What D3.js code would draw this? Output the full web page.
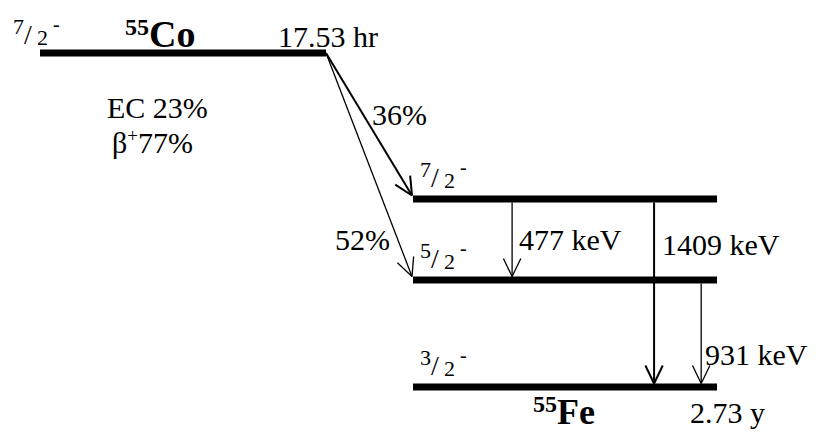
<!DOCTYPE html>
<html><head><meta charset="utf-8">
<script src="https://cdn.jsdelivr.net/npm/d3@7"></script>
<style>body{margin:0;background:#fff}svg{display:block}</style></head>
<body><svg id="c" width="816" height="432" font-family="'Liberation Serif', 'DejaVu Serif', serif"></svg>
<script>
// ---- data ----
const levelIds      = ["Co", "Fe1409", "Fe931", "Fe0"];
const levelEnergies = [3451, 1409, 931, 0];          // keV
const levelSpinNum  = ["7", "7", "5", "3"];
const levelSpinDen  = ["2", "2", "2", "2"];
const levelParity   = ["-", "-", "-", "-"];
const levelNucleus  = ["parent", "daughter", "daughter", "daughter"];

const feedFrom   = [0, 0];
const feedTo     = [1, 2];
const feedLabels = ["36%", "52%"];
const feedStrong = [true, false];

const gammaFrom   = [1, 1, 2];
const gammaTo     = [2, 3, 3];
const gammaLabels = ["477 keV", "1409 keV", "931 keV"];
const gammaStrong = [false, true, false];

const parentName = ["55", "Co"], daughterName = ["55", "Fe"];
const parentHalfLife = "17.53 hr", daughterHalfLife = "2.73 y";
const decayModes = ["EC 23%", "77%"];

// ---- layout ----
const FONT = "Liberation Serif";
const svg = d3.select("#c");
const y = d3.scaleLinear().domain([0, 931, 1409, 3451]).range([387, 280, 199, 53]);
const xParent = d3.scaleLinear().domain([0, 1]).range([40, 326]);
const xDaughter = d3.scaleLinear().domain([0, 1]).range([413, 717]);
const gammaFrac = [0.326, 0.793, 0.948];
const xOf = i => levelNucleus[i] === "parent" ? xParent : xDaughter;
const half = 3.5;

function txt(x, yy, size, s) {
  return svg.append("text").attr("x", x).attr("y", yy)
    .attr("font-family", FONT).attr("font-size", size).attr("fill", "#000").text(s || null);
}

// levels
levelIds.forEach((id, i) => {
  const xs = xOf(i);
  svg.append("line").attr("x1", xs(0)).attr("x2", xs(1))
    .attr("y1", y(levelEnergies[i])).attr("y2", y(levelEnergies[i]))
    .attr("stroke", "#000").attr("stroke-width", 7);
});

function arrow(x1, y1, x2, y2, w) {
  const g = svg.append("g").attr("stroke", "#000").attr("stroke-width", w).attr("fill", "none");
  g.append("line").attr("x1", x1).attr("y1", y1).attr("x2", x2).attr("y2", y2);
  const a = Math.atan2(y2 - y1, x2 - x1), L = 20, s = 0.45;
  [a + Math.PI - s, a + Math.PI + s].forEach(b => {
    g.append("line").attr("x1", x2).attr("y1", y2)
      .attr("x2", x2 + L * Math.cos(b)).attr("y2", y2 + L * Math.sin(b));
  });
}

// feeding arrows
feedFrom.forEach((f, k) => {
  const t = feedTo[k];
  arrow(xParent(1), y(levelEnergies[f]), xDaughter(0) - 1, y(levelEnergies[t]) - half,
        feedStrong[k] ? 2 : 1.3);
});
// gamma arrows
gammaFrom.forEach((f, k) => {
  const t = gammaTo[k], gx = xDaughter(gammaFrac[k]);
  arrow(gx, y(levelEnergies[f]) + half, gx, y(levelEnergies[t]) - half, gammaStrong[k] ? 2 : 1.3);
});

// spin labels
function spin(i, x0, yb) {
  txt(x0, yb - 11, 22, levelSpinNum[i]);
  txt(x0 + 11, yb - 1, 28, "/");
  txt(x0 + 24, yb, 22, levelSpinDen[i]);
  txt(x0 + 40, yb - 14, 20, levelParity[i]);
}
spin(0, 13, 45);
[1, 2, 3].forEach(i => spin(i, 420, y(levelEnergies[i]) - 11));

// nucleus names
function nuc(parts, x0, yb, big) {
  const t = txt(x0, yb, big).attr("font-weight", "bold");
  t.append("tspan").attr("font-size", 24).attr("dy", -12).text(parts[0]);
  t.append("tspan").attr("font-size", big).attr("dy", 12).text(parts[1]);
}
nuc(parentName, 125, y(levelEnergies[0]) - 6, 38);
nuc(daughterName, 533, y(levelEnergies[3]) + 37, 36);

const fs = 30;
txt(278, y(levelEnergies[0]) - 6, fs, parentHalfLife);
txt(690, y(levelEnergies[3]) + 36, fs, daughterHalfLife);
txt(107, 118, fs, decayModes[0]);
const b = txt(112, 153, fs);
b.append("tspan").text("β");
b.append("tspan").attr("font-size", 19).attr("dy", -11).text("+");
b.append("tspan").attr("dy", 11).text(decayModes[1]);

txt(372, 125, fs, feedLabels[0]);
txt(335, 250, fs, feedLabels[1]);

txt(519, 250, fs, gammaLabels[0]);
txt(662, 255, fs, gammaLabels[1]);
txt(705, 365, fs, gammaLabels[2]);
</script></body></html>
